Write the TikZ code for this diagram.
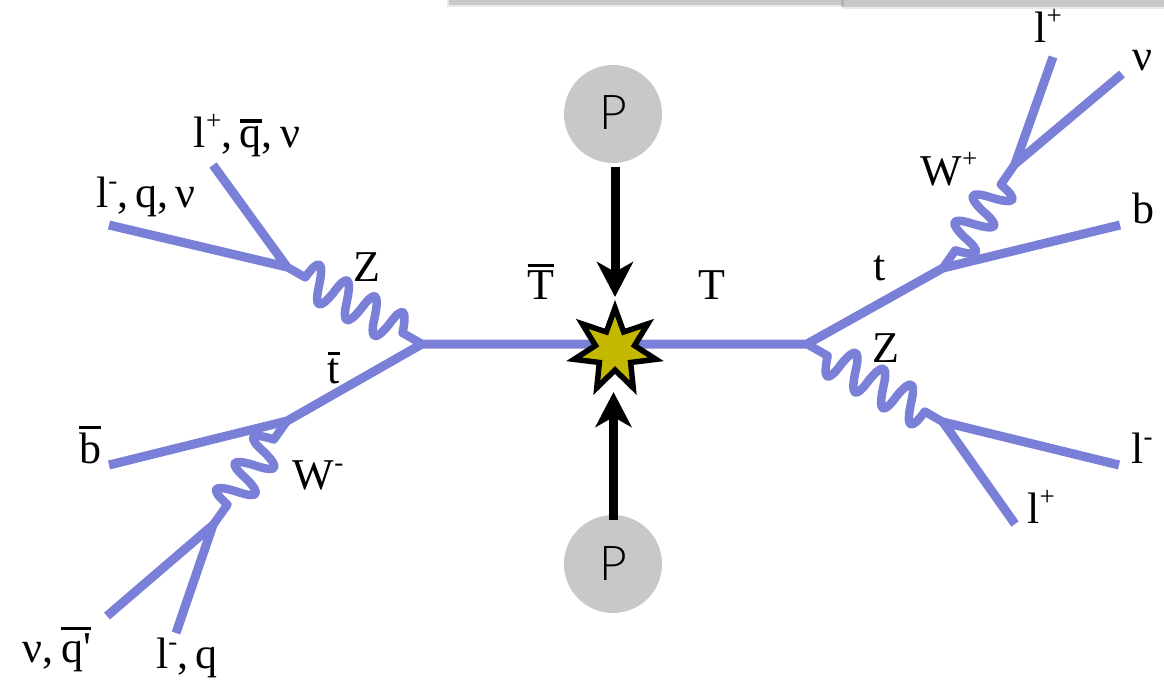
\documentclass[tikz,border=0pt]{standalone}
\usepackage{fontspec}
\setmainfont{Liberation Serif}
\newfontfamily\protonfont{Lato Light}
\newfontfamily\primefont{Liberation Serif}
\usetikzlibrary{arrows.meta,decorations,shapes.geometric}

\definecolor{fermioncol}{RGB}{122,127,216}
\definecolor{burstcol}{RGB}{196,184,0}
\definecolor{protoncol}{RGB}{200,200,200}

\newcommand{\upidx}[1]{\raisebox{18pt}{\fontsize{27}{27}\selectfont #1}}
\newcommand{\barred}[1]{\leavevmode\vbox{\hrule height 3.5pt \kern 3pt \hbox{#1}}}

\pgfdeclaredecoration{bosonwave}{up}{
  \state{up}[width=16pt,next state=down]{\pgfpathcurveto{\pgfqpoint{2.5pt}{24pt}}{\pgfqpoint{8.2pt}{24pt}}{\pgfqpoint{16pt}{0pt}}}
  \state{down}[width=16pt,next state=up]{\pgfpathcurveto{\pgfqpoint{6.5pt}{-22pt}}{\pgfqpoint{12.2pt}{-22pt}}{\pgfqpoint{16pt}{0pt}}}
  \state{final}{\pgfpathlineto{\pgfpointdecoratedpathlast}}
}

\tikzset{
  fermion/.style={draw=fermioncol,line width=9pt},
  zboson/.style={draw=fermioncol,line width=8.5pt,line join=round,decorate,decoration={bosonwave,pre length=21pt,post length=18pt}},
  wboson/.style={draw=fermioncol,line width=8.5pt,line join=round,decorate,decoration={bosonwave,pre length=25pt,post length=18pt}},
  beam/.style={line width=9pt,-{Stealth[length=35pt,width=36pt,inset=10pt]}},
  proton/.style={circle,fill=protoncol,minimum size=98pt,inner sep=0pt,text=black,font=\protonfont\fontsize{48}{54}\selectfont},
  burst/.style={star,star points=7,star point ratio=2.1,minimum size=84pt,inner sep=0pt,draw=black,line width=5.5pt,fill=burstcol},
  lab/.style={anchor=base,inner sep=0pt,font=\fontsize{44}{50}\selectfont}
}

\begin{document}
\begin{tikzpicture}[x=1pt,y=-1pt]
  \useasboundingbox (0,0) rectangle (1164,680);
  % window edge at the top
  \fill[protoncol!40] (447,0) rectangle (842,7);
  \fill[protoncol!40] (842,0) rectangle (1164,9);
  \fill[protoncol] (449,0) rectangle (842,5);
  \fill[protoncol] (842,0) rectangle (1164,7);
  \fill[black!30] (841,0) rectangle (844,6);
  % vertices
  \coordinate (vTbar) at (422,344);
  \coordinate (vT) at (807,344);
  \coordinate (vtbar) at (287,421);
  \coordinate (vt) at (943,268);
  \coordinate (vZl) at (287,267);
  \coordinate (vZr) at (943,422);
  \coordinate (vWm) at (213,525);
  \coordinate (vWp) at (1015,164);
  % free ends
  \coordinate (endA) at (109,225);
  \coordinate (endB) at (213,165);
  \coordinate (endC) at (109,465);
  \coordinate (endD) at (107,616);
  \coordinate (endE) at (176,633);
  \coordinate (endF) at (1053,57);
  \coordinate (endG) at (1122,74);
  \coordinate (endH) at (1120,225);
  \coordinate (endI) at (1119,465);
  \coordinate (endJ) at (1015,524);
  \coordinate (tiptop) at (615,297);
  \coordinate (tipbot) at (613.5,392);
  % left: T bar
  \draw[fermion] (endA) -- (vZl) -- (endB);
  \draw[fermion] (endD) -- (vWm) -- (endE);
  \draw[fermion] (endC) -- (vtbar) -- (vTbar) -- (vT) -- (vt) -- (endH);
  \path[zboson] (vZl) -- (vTbar);
  \path[wboson] (vWm) -- (vtbar);
  % right: T
  \draw[fermion] (endF) -- (vWp) -- (endG);
  \draw[fermion] (endI) -- (vZr) -- (endJ);
  \path[wboson] (vWp) -- (vt);
  \path[zboson] (vZr) -- (vT);
  % middle: protons
  \node[proton,text depth=3pt] (Ptop) at (613,114) {P};
  \node[proton] (Pbot) at (613,564) {P};
  \node[burst] (hit) at (615,350) {};
  \draw[beam,shorten <=4pt] (Ptop.south -| tiptop) -- (tiptop);
  \draw[beam,shorten <=-5pt] (Pbot.north -| tipbot) -- (tipbot);
  % labels
  \node[lab] (lA) at (247,147) {l\upidx{+},\,\barred{q},\,ν};
  \node[lab] (lB) at (146,207) {l\upidx{-},\,q,\,ν};
  \node[lab] (lZl) at (367,281) {Z};
  \node[lab] (ltbar) at (334,383) {\barred{t}};
  \node[lab] (lbbar) at (90,463) {\barred{b}};
  \node[lab] (lWm) at (318,489) {W\upidx{-}};
  \node[lab] (lC) at (57,662) {ν,\,\barred{q{\primefont'}}};
  \node[lab] (lD) at (187,668) {l\upidx{-},\,q};
  \node[lab] (lTbar) at (541,299) {\barred{T}};
  \node[lab] (lT) at (712,299) {T};
  \node[lab] (lt) at (880,280) {t};
  \node[lab] (lWp) at (949,185) {W\upidx{+}};
  \node[lab] (lE) at (1048,42) {l\upidx{+}};
  \node[lab] (lF) at (1142,70) {ν};
  \node[lab] (lb) at (1143,223) {b};
  \node[lab] (lZr) at (886,362) {Z};
  \node[lab] (lG) at (1142,463) {l\upidx{-}};
  \node[lab] (lH) at (1041,523) {l\upidx{+}};
\end{tikzpicture}
\end{document}
